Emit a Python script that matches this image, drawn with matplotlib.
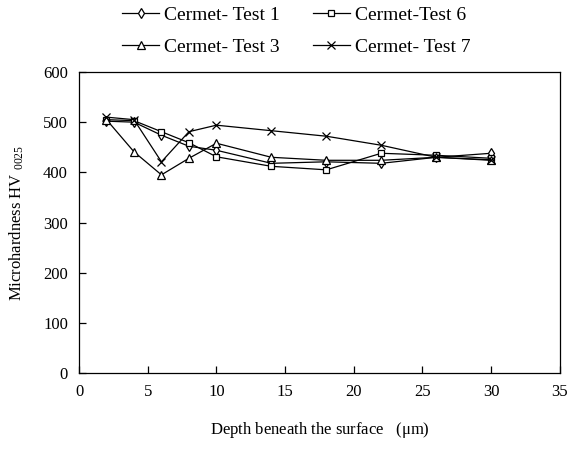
import matplotlib.pyplot as plt

plt.rcParams['font.family'] = ['Liberation Serif', 'DejaVu Serif']

# ---------- DATA ----------
depth = [2, 4, 6, 8, 10, 14, 18, 22, 26, 30]

test1 = [502, 500, 474, 452, 444, 418, 421, 418, 430, 438]
test6 = [505, 503, 481, 459, 431, 412, 405, 438, 434, 428]
test3 = [505, 441, 395, 428, 458, 430, 424, 424, 430, 425]
test7 = [510, 505, 421, 481, 494, 483, 472, 454, 430, 424]

labels = ["Cermet- Test 1", "Cermet- Test 3", "Cermet-Test 6", "Cermet- Test 7"]
xticks = [0, 5, 10, 15, 20, 25, 30, 35]
yticks = [0, 100, 200, 300, 400, 500, 600]

# ---------- PLOT ----------
fig = plt.figure(figsize=(5.73, 4.54), dpi=100)
ax = fig.add_axes([0.1379, 0.1784, 0.8391, 0.663])

style = dict(color='black', lw=0.9, mfc='white', mec='black', mew=0.9)
l1, = ax.plot(depth, test1, marker='d', ms=5, **style)
l6, = ax.plot(depth, test6, marker='s', ms=5, **style)
l3, = ax.plot(depth, test3, marker='^', ms=6, **style)
l7, = ax.plot(depth, test7, marker='x', ms=6, **style)

ax.set_xlim(0, 35)
ax.set_ylim(0, 600)
ax.set_xticks(xticks)
ax.set_yticks(yticks)
ax.tick_params(direction='in', length=5, width=0.9, labelsize=12, pad=8)
for s in ax.spines.values():
    s.set_linewidth(0.9)

ax.set_xlabel(r"Depth beneath the surface   ($\mathregular{\mu}$m)", fontsize=12, labelpad=14)
ax.set_ylabel(r"Microhardness HV $\mathregular{_{0025}}$", fontsize=12, labelpad=12)

# column-wise fill: col 1 = Test 1 / Test 3, col 2 = Test 6 / Test 7
fig.legend([l1, l3, l6, l7], labels, loc='upper center', ncol=2,
           bbox_to_anchor=(0.517, 1.025), frameon=False, fontsize=14,
           handlelength=1.9, columnspacing=1.7, handletextpad=0.25,
           labelspacing=0.75)

fig.savefig("out.png", dpi=100)
